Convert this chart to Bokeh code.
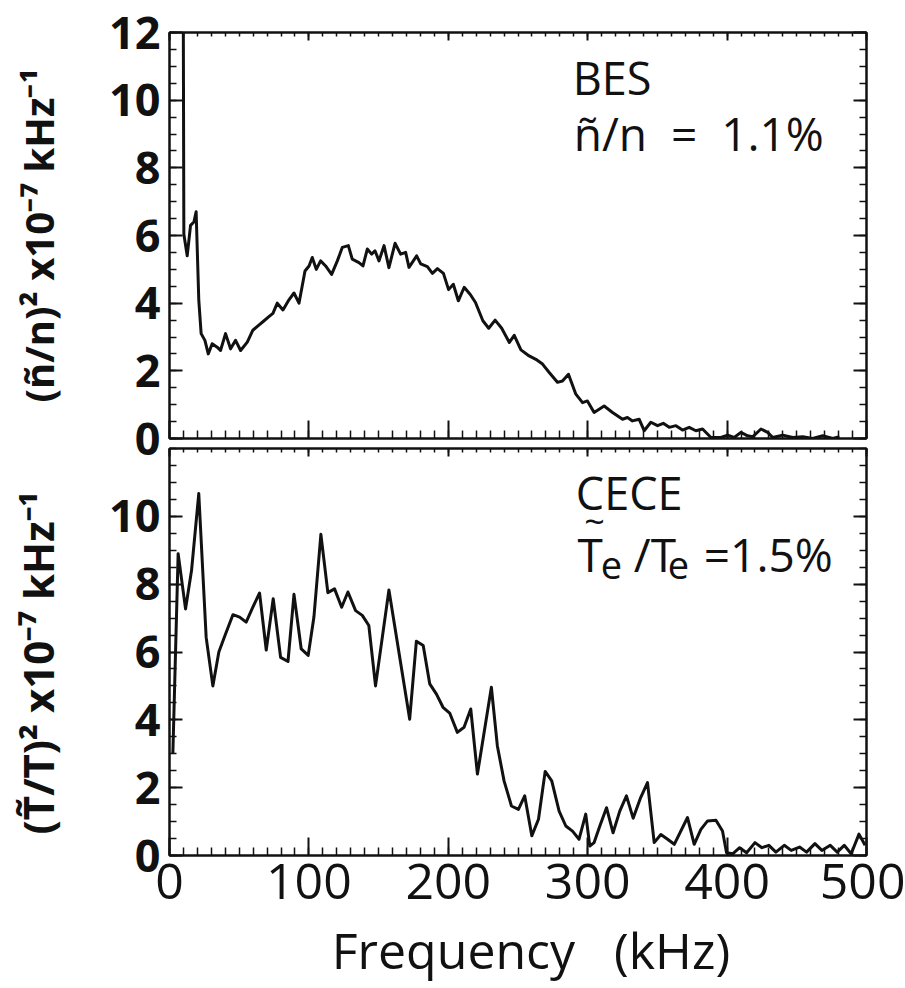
from bokeh.plotting import figure
from bokeh.models import (LinearAxis, FixedTicker, Label, Range1d, ColumnDataSource,
                          CustomJSTickFormatter, BasicTickFormatter)
from bokeh.layouts import column
from bokeh.embed import file_html
from bokeh.resources import INLINE

# ---------------- data ----------------
bes_freq = [9.8, 10.3, 12.7, 15.1, 17.5, 19.1, 21.0, 22.7, 25.4, 27.8, 30.6, 34.2, 36.6,
            40.2, 43.8, 47.4, 51.0, 55.8, 59.8, 64.1, 67.0, 71.3, 74.2, 77.3, 81.4, 85.7,
            89.3, 92.9, 97.2, 100.1, 102.4, 105.3, 108.4, 112.0, 116.3, 120.4, 124.0, 128.3,
            131.1, 135.9, 138.8, 141.9, 145.0, 147.4, 150.3, 153.9, 157.4, 161.8, 165.8,
            169.4, 171.8, 177.3, 180.2, 185.0, 188.6, 192.2, 196.5, 200.2, 203.6, 207.2,
            211.4, 215.9, 219.5, 224.8, 229.0, 233.6, 238.3, 243.8, 247.3, 252.1, 258.0,
            262.8, 267.6, 272.4, 278.3, 281.9, 286.2, 291.5, 296.3, 299.8, 304.6, 311.8,
            317.8, 325.0, 328.5, 332.1, 336.9, 340.5, 345.3, 350.1, 354.2, 358.5, 363.3,
            368.0, 372.8, 377.6, 382.4, 388.4, 395.6, 400.4, 405.1, 409.9, 414.7, 418.3,
            424.3, 429.1, 432.7, 439.9, 447.1, 454.3, 461.4, 468.6, 475.8, 480.6]
bes_power = [14.0, 6.04, 5.4, 6.3, 6.4, 6.7, 4.1, 3.1, 2.9, 2.5, 2.8, 2.7, 2.6,
             3.1, 2.65, 2.9, 2.6, 2.85, 3.2, 3.35, 3.45, 3.6, 3.7, 4.0, 3.8, 4.1,
             4.3, 4.0, 4.95, 5.1, 5.35, 5.0, 5.25, 5.1, 4.85, 5.25, 5.65, 5.7,
             5.3, 5.2, 5.1, 5.6, 5.45, 5.55, 5.25, 5.7, 5.05, 5.77, 5.45,
             5.5, 5.06, 5.4, 5.16, 5.08, 4.88, 5.02, 4.88, 4.4, 4.56, 4.07,
             4.47, 4.25, 4.02, 3.48, 3.26, 3.5, 3.26, 2.84, 3.05, 2.62, 2.44,
             2.34, 2.2, 1.95, 1.66, 1.7, 1.9, 1.31, 1.06, 1.11, 0.77, 0.96,
             0.77, 0.57, 0.62, 0.52, 0.57, 0.23, 0.48, 0.38, 0.45, 0.33, 0.38,
             0.25, 0.33, 0.23, 0.28, 0.03, 0.03, 0.1, 0.03, 0.18, 0.08, 0.05,
             0.28, 0.18, 0.03, 0.1, 0.03, 0.05, 0.0, 0.08, 0.0, 0.05]

cece_freq = [2.4, 6.2, 11.5, 15.8, 21.0, 26.3, 31.1, 35.4, 40.2, 45.5, 50.3, 55.0, 59.8,
             64.6, 69.4, 74.4, 79.7, 85.0, 89.3, 94.5, 99.5, 103.6, 108.6, 113.6, 118.4,
             123.5, 128.0, 133.5, 138.3, 143.0, 147.8, 157.4, 172.3, 177.1, 182.0, 186.7,
             191.5, 196.2, 201.0, 206.5, 211.3, 216.1, 220.9, 230.9, 235.2, 240.0, 245.3,
             250.3, 254.8, 259.9, 264.7, 269.5, 274.2, 279.5, 284.3, 289.1, 293.8, 298.6,
             301.5, 304.6, 308.7, 313.5, 318.2, 323.0, 327.8, 332.6, 338.0, 342.9, 347.7,
             352.5, 357.3, 362.1, 371.6, 376.4, 381.2, 386.0, 392.0, 396.7, 399.6, 404.0,
             409.0, 414.0, 420.0, 425.0, 430.0, 435.0, 441.0, 446.0, 452.0, 457.0, 463.0,
             468.0, 474.0, 479.0, 484.0, 489.0, 494.6, 499.0]
cece_power = [3.0, 8.9, 7.27, 8.4, 10.67, 6.43, 5.0, 6.0, 6.53, 7.1, 7.03, 6.88, 7.32,
              7.74, 6.06, 7.57, 5.84, 5.72, 7.7, 6.09, 5.9, 7.03, 9.47, 7.75, 7.86,
              7.32, 7.77, 7.22, 7.08, 6.78, 5.0, 7.83, 4.02, 6.32, 6.19, 5.06,
              4.76, 4.37, 4.2, 3.63, 3.78, 4.32, 2.4, 4.96, 3.23, 2.2, 1.46,
              1.36, 1.76, 0.58, 1.07, 2.48, 2.2, 1.31, 0.87, 0.72, 0.48, 1.22,
              0.28, 0.38, 0.87, 1.41, 0.67, 1.31, 1.76, 1.1, 1.71, 2.15, 0.38,
              0.62, 0.48, 0.33, 1.12, 0.33, 0.77, 1.02, 1.04, 0.72, 0.08, 0.05,
              0.23, 0.08, 0.38, 0.23, 0.3, 0.1, 0.3, 0.15, 0.25, 0.1, 0.35,
              0.15, 0.3, 0.1, 0.3, 0.05, 0.63, 0.3]

x_major = [0, 100, 200, 300, 400, 500]
x_minor = list(range(0, 501, 10))
y_major_top = [0, 2, 4, 6, 8, 10, 12]
y_major_bottom = [0, 2, 4, 6, 8, 10]
y_minor = [v / 2 for v in range(0, 25)]

FONT = "Open Sans"
INK = "#111111"
NB = "\u00a0"


def style_axis(ax, major_in, minor_in, labels):
    ax.major_tick_out = 0
    ax.minor_tick_out = 0
    ax.major_tick_in = major_in
    ax.minor_tick_in = minor_in
    ax.axis_line_color = INK
    ax.axis_line_width = 2
    ax.major_tick_line_color = INK
    ax.minor_tick_line_color = INK
    ax.major_tick_line_width = 2
    ax.minor_tick_line_width = 1.5
    if not labels:
        ax.formatter = CustomJSTickFormatter(code="return ''")
        ax.major_label_standoff = 0
        ax.major_label_text_font_size = "1px"


def panel(height, top, bottom, yticks, ylabel, ylabel_size):
    p = figure(width=905, height=height, x_range=Range1d(0, 500), y_range=Range1d(0, 12),
               output_backend="svg", toolbar_location=None,
               x_axis_location=None, y_axis_location=None,
               min_border_left=169, min_border_right=39,
               min_border_top=top, min_border_bottom=bottom)
    p.xgrid.visible = False
    p.ygrid.visible = False
    p.outline_line_color = INK
    p.outline_line_width = 2
    p.background_fill_color = "white"

    xt = FixedTicker(ticks=x_major, minor_ticks=x_minor)
    yt = FixedTicker(ticks=yticks, minor_ticks=y_minor)

    left = LinearAxis(ticker=yt)
    style_axis(left, 13, 7, True)
    left.major_label_text_font = FONT
    left.major_label_text_font_style = "bold"
    left.major_label_text_font_size = "45px"
    left.major_label_text_color = INK
    left.major_label_standoff = 9
    left.axis_label = ylabel
    left.axis_label_text_font = FONT
    left.axis_label_text_font_style = "bold"
    left.axis_label_text_font_size = ylabel_size
    left.axis_label_text_color = INK
    left.axis_label_standoff = 40
    p.add_layout(left, "left")

    right = LinearAxis(ticker=yt)
    style_axis(right, 13, 7, False)
    p.add_layout(right, "right")

    bot = LinearAxis(ticker=xt)
    style_axis(bot, 18, 8, False)
    p.add_layout(bot, "below")

    top_ax = LinearAxis(ticker=xt)
    style_axis(top_ax, 8, 4, False)
    p.add_layout(top_ax, "above")
    return p, bot


# ---------------- top panel: BES ----------------
p1, _ = panel(468, 32, 30, y_major_top, "(ñ/n)²" + NB + "x10⁻⁷" + NB + "kHz⁻¹", "40px")
p1.border_fill_color = None
p1.line(x="f", y="s", source=ColumnDataSource(dict(f=bes_freq, s=bes_power)),
        line_color=INK, line_width=3, line_join="round")
p1.add_layout(Label(x=289.3, y=10.68, text="BES", text_font=FONT, text_font_size="45px",
                    text_baseline="alphabetic", text_align="left", text_color=INK))
p1.add_layout(Label(x=290.0, y=9.02, text="ñ/n" + NB * 2 + "=" + NB * 2 + "1.1%",
                    text_font=FONT, text_font_size="46px", text_baseline="alphabetic",
                    text_align="left", text_color=INK))

# ---------------- bottom panel: CECE ----------------
p2, bx = panel(545, 5, 133, y_major_bottom,
               "(T̃/T)²" + NB + "x10⁻⁷" + NB + "kHz⁻¹" + NB * 2, "42px")
p2.border_fill_color = None
p2.styles = {"margin-top": "-25px"}
p2.line(x="f", y="s", source=ColumnDataSource(dict(f=cece_freq, s=cece_power)),
        line_color=INK, line_width=3, line_join="round")

bx.formatter = BasicTickFormatter()
bx.major_label_text_font_size = "50px"
bx.major_label_text_font = FONT
bx.major_label_text_color = INK
bx.major_label_standoff = 8
bx.axis_label = NB * 2 + "Frequency" + NB * 3 + "(kHz)"
bx.axis_label_text_font = FONT
bx.axis_label_text_font_size = "50px"
bx.axis_label_text_font_style = "normal"
bx.axis_label_text_color = INK
bx.axis_label_standoff = 14


def lab(x, y, t, size="46px"):
    p2.add_layout(Label(x=x, y=y, text=t, text_font=FONT, text_font_size=size,
                        text_baseline="alphabetic", text_align="left", text_color=INK))


lab(291.5, 10.69, "CECE", "45px")
lab(292.6, 8.88, "T")
lab(297.5, 9.85, "~", "36px")
lab(309.4, 8.57, "e", "38px")
lab(333.1, 8.88, "/T")
lab(357.5, 8.57, "e", "38px")
lab(383.3, 8.88, "=1.5%")

layout = column(p1, p2)
open("out.html", "w").write(file_html(layout, INLINE))
